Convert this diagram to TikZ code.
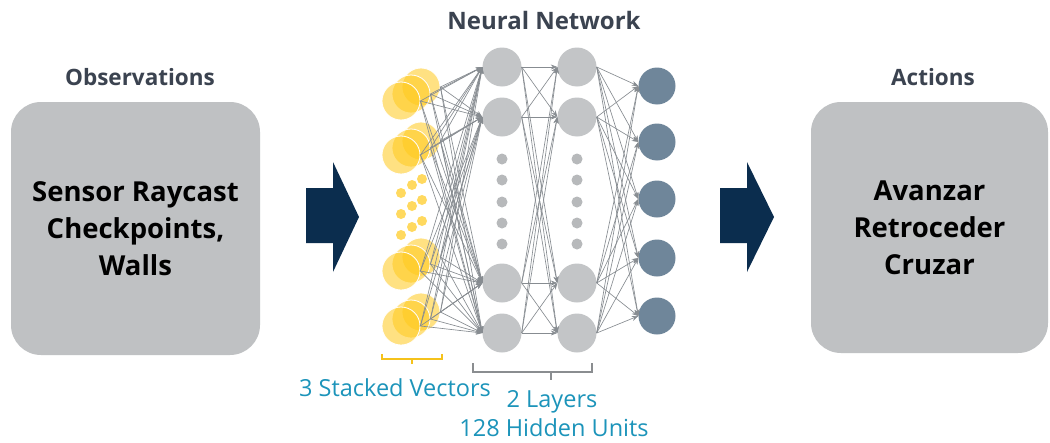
\documentclass[tikz,border=0pt]{standalone}
\usepackage{fontspec}
\setmainfont{Open Sans}
\usetikzlibrary{arrows.meta}
\definecolor{boxgray}{HTML}{BFC1C3}
\definecolor{navy}{HTML}{0B2D4E}
\definecolor{nodegray}{HTML}{C3C5C7}
\definecolor{dotgray}{HTML}{B7B9BB}
\definecolor{outblue}{HTML}{6F869A}
\definecolor{linegray}{HTML}{878C91}
\definecolor{titlecol}{HTML}{3B4350}
\definecolor{labelcol}{HTML}{1C94BA}
\definecolor{vecyellow}{HTML}{FFCA1C}
\definecolor{brackyellow}{HTML}{F5C21B}
\definecolor{brackgray}{HTML}{8A8D90}
\begin{document}
\begin{tikzpicture}[x=1pt,y=-1pt,
  title/.style={font=\bfseries\fontsize{22.5}{26}\selectfont, text=titlecol, inner sep=0pt},
  bigbox/.style={fill=boxgray, rounded corners=30pt, inner sep=0pt, align=center,
     font=\bfseries\fontsize{27.5}{37}\selectfont, text=black},
  hid/.style={circle, fill=nodegray, minimum size=39pt, inner sep=0pt},
  hdot/.style={circle, fill=dotgray, minimum size=11pt, inner sep=0pt},
  outn/.style={circle, fill=outblue, minimum size=37pt, inner sep=0pt},
  vec/.style={circle, fill=vecyellow, fill opacity=0.55, draw=white, line width=0.8pt, minimum size=38pt, inner sep=0pt},
  vdot/.style={circle, fill=vecyellow, fill opacity=0.7, minimum size=10pt, inner sep=0pt},
  conn/.style={draw=linegray, line width=0.65pt, -{Stealth[length=6.5pt,width=5pt]}},
  label/.style={font=\fontsize{23.5}{26}\selectfont, text=labelcol, inner sep=0pt, align=center},
  blockarrow/.style={fill=navy},
]
\useasboundingbox[fill=white] (0,0) rectangle (1050,442);

% titles
\node[title] (tobs) at (140,77) {Observations};
\node[title, font=\bfseries\fontsize{24}{28}\selectfont] (tnn) at (544,20) {Neural Network};
\node[title] (tact) at (933,77) {Actions};

% boxes
\node[bigbox, minimum width=249pt, minimum height=253pt] (obs) at (135.5,228.5)
  {Sensor Raycast\\Checkpoints,\\Walls};
\node[bigbox, minimum width=237pt, minimum height=251pt] (act) at (929.5,227.5)
  {Avanzar\\Retroceder\\Cruzar};

% block arrows
\fill[blockarrow] (306,188) -- (333,188) -- (333,162) -- (359,217) -- (333,272) -- (333,243) -- (306,243) -- cycle;
\fill[blockarrow] (720,188) -- (747,188) -- (747,162) -- (774,217) -- (747,272) -- (747,243) -- (720,243) -- cycle;

% input stacked vectors
\foreach \g/\y in {1/101,2/155,3/271,4/326}{
  \node[vec] (v\g-3) at (421,\y-14) {};
  \node[vec] (v\g-2) at (411,\y-7) {};
  \node[vec] (v\g-1) at (401,\y) {};
}
\foreach \r/\y in {1/179,2/200,3/221}{
  \node[vdot] (vd\r-3) at (422,\y) {};
  \node[vdot] (vd\r-2) at (412,\y+6) {};
  \node[vdot] (vd\r-1) at (401,\y+14) {};
}

% hidden layers
\foreach \i/\y in {1/67,2/117,3/283,4/333}{
  \node[hid] (a\i) at (502,\y) {};
  \node[hid] (b\i) at (577,\y) {};
}
\foreach \k/\y in {1/159,2/180,3/202,4/223,5/244}{
  \node[hdot] (ad\k) at (502,\y) {};
  \node[hdot] (bd\k) at (577,\y) {};
}
% outputs
\foreach \k/\y in {1/86,2/142,3/199,4/258,5/316}{
  \node[outn] (o\k) at (657,\y) {};
}

% connections
\foreach \g in {1,2,3,4}{
  \foreach \c in {1,2,3}{
    \foreach \i in {1,2,3,4}{
      \draw[conn] (v\g-\c.east) -- (a\i.west);
    }
  }
}
\foreach \i in {1,2,3,4}{
  \foreach \j in {1,2,3,4}{
    \draw[conn] (a\i.east) -- (b\j.west);
  }
  \foreach \k in {1,2,3,4,5}{
    \draw[conn] (b\i.east) -- (o\k.west);
  }
}

% brackets
\coordinate (yb1) at (382,354);
\coordinate (yb2) at (442,354);
\coordinate (ybm) at (412,359);
\coordinate (ybt) at (412,364);
\draw[brackyellow, line width=1.6pt] (yb1) -- (yb1 |- ybm) -- (yb2 |- ybm) -- (yb2);
\draw[brackyellow, line width=1.6pt] (ybm) -- (ybt);
\coordinate (gb1) at (473,363);
\coordinate (gb2) at (592,363);
\coordinate (gbm) at (551,372);
\coordinate (gbt) at (551,380);
\draw[brackgray, line width=1.6pt] (gb1) -- (gb1 |- gbm) -- (gb2 |- gbm) -- (gb2);
\draw[brackgray, line width=1.6pt] (gbm) -- (gbt);

% labels
\node[label] (lvec) at (395,388) {3 Stacked Vectors};
\node[label] (llay) at (552,402) {2 Layers};
\node[label] (lhid) at (554,428) {128 Hidden Units};
\end{tikzpicture}
\end{document}
